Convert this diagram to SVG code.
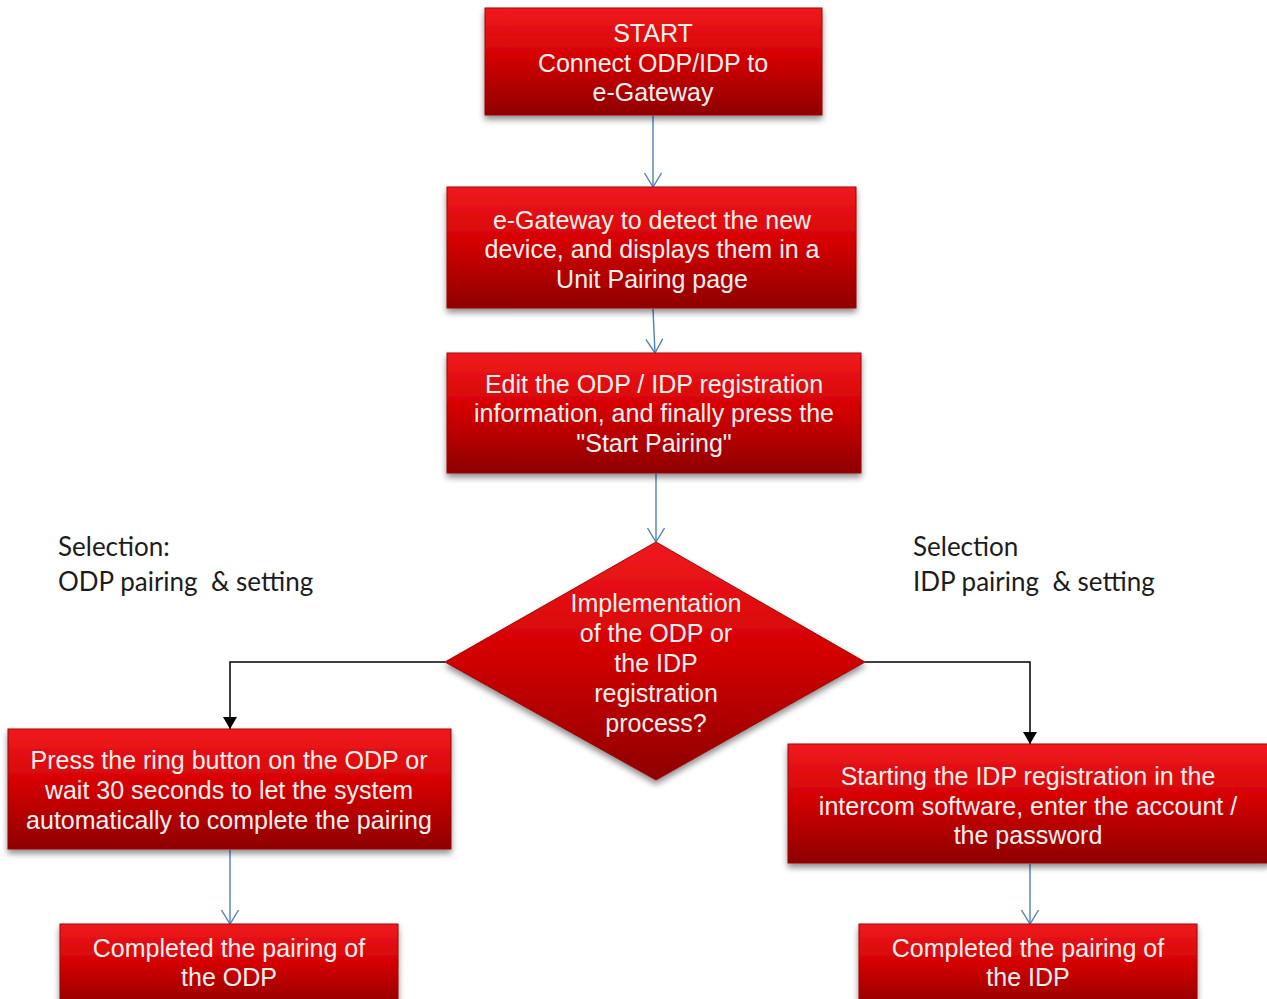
<svg xmlns="http://www.w3.org/2000/svg" width="1267" height="999" viewBox="0 0 1267 999">
<defs>
<linearGradient id="red" x1="0" y1="0" x2="0" y2="1">
<stop offset="0" stop-color="#f01a20"/>
<stop offset="0.45" stop-color="#d50203"/>
<stop offset="1" stop-color="#8e0000"/>
</linearGradient>
<filter id="sh" x="-10%" y="-10%" width="120%" height="130%">
<feDropShadow dx="0" dy="4" stdDeviation="3" flood-color="#000" flood-opacity="0.45"/>
</filter>
<marker id="openBlue" viewBox="0 0 16 18" refX="15" refY="9" markerWidth="16" markerHeight="18" markerUnits="userSpaceOnUse" orient="auto">
<path d="M1,0.5 L15,9 L1,17.5" fill="none" stroke="#4f81bd" stroke-width="1.4"/>
</marker>
<marker id="fillBlack" viewBox="0 0 14 12" refX="7" refY="12" markerWidth="14" markerHeight="12" markerUnits="userSpaceOnUse" orient="0">
<path d="M0,0 L14,0 L7,12 Z" fill="#000"/>
</marker>
</defs>
<style>
.box{fill:url(#red);stroke:#9a0a0a;stroke-width:1;filter:url(#sh)}
.t{font-family:"Liberation Sans",Arial,sans-serif;font-size:25px;fill:#fdf1ef;text-anchor:middle}
.sel{font-family:Lato,"Open Sans",sans-serif;font-size:26px;fill:#1c1c1c;white-space:pre}
.blue{fill:none;stroke:#4f81bd;stroke-width:1.4;marker-end:url(#openBlue)}
.blk{fill:none;stroke:#000;stroke-width:1.5;marker-end:url(#fillBlack)}
</style>
<rect width="1267" height="999" fill="#fff"/>
<g id="connectors">
<path class="blue" d="M653,116 L653,187"/>
<path class="blue" d="M653,309 L655,353"/>
<path class="blue" d="M656,474 L656,542"/>
<path class="blue" d="M230,850 L230,924"/>
<path class="blue" d="M1030,864 L1030,924"/>
<path class="blk" d="M445,662 L230,662 L230,729"/>
<path class="blk" d="M865,662 L1030,662 L1030,744"/>
</g>
<g id="start">
<rect class="box" x="485" y="8" width="337" height="107"/>
<text class="t" x="653" y="42">START</text>
<text class="t" x="653" y="72">Connect ODP/IDP to</text>
<text class="t" x="653" y="101">e-Gateway</text>
</g>
<g id="detect">
<rect class="box" x="447" y="187" width="409" height="121"/>
<text class="t" x="652" y="229">e-Gateway to detect the new</text>
<text class="t" x="652" y="258">device, and displays them in a</text>
<text class="t" x="652" y="288">Unit Pairing page</text>
</g>
<g id="edit">
<rect class="box" x="447" y="353" width="414" height="120"/>
<text class="t" x="654" y="393">Edit the ODP / IDP registration</text>
<text class="t" x="654" y="422">information, and finally press the</text>
<text class="t" x="654" y="452">"Start Pairing"</text>
</g>
<g id="decision">
<polygon class="box" points="656,542 865,662 656,780 445,662"/>
<text class="t" x="656" y="612">Implementation</text>
<text class="t" x="656" y="642">of the ODP or</text>
<text class="t" x="656" y="672">the IDP</text>
<text class="t" x="656" y="702">registration</text>
<text class="t" x="656" y="732">process?</text>
</g>
<g id="sel-odp">
<text class="sel" x="58" y="556">Selection:</text>
<text class="sel" x="58" y="591" xml:space="preserve">ODP pairing  &amp; setting</text>
</g>
<g id="sel-idp">
<text class="sel" x="913" y="556">Selection</text>
<text class="sel" x="913" y="591" xml:space="preserve">IDP pairing  &amp; setting</text>
</g>
<g id="odp-press">
<rect class="box" x="8" y="729" width="443" height="120"/>
<text class="t" x="229" y="769">Press the ring button on the ODP or</text>
<text class="t" x="229" y="799">wait 30 seconds to let the system</text>
<text class="t" x="229" y="829">automatically to complete the pairing</text>
</g>
<g id="idp-start">
<rect class="box" x="788" y="744" width="482" height="119"/>
<text class="t" x="1028" y="785">Starting the IDP registration in the</text>
<text class="t" x="1028" y="815">intercom software, enter the account /</text>
<text class="t" x="1028" y="844">the password</text>
</g>
<g id="odp-done">
<rect class="box" x="60" y="924" width="338" height="85"/>
<text class="t" x="229" y="957">Completed the pairing of</text>
<text class="t" x="229" y="986">the ODP</text>
</g>
<g id="idp-done">
<rect class="box" x="859" y="924" width="338" height="85"/>
<text class="t" x="1028" y="957">Completed the pairing of</text>
<text class="t" x="1028" y="986">the IDP</text>
</g>
</svg>
